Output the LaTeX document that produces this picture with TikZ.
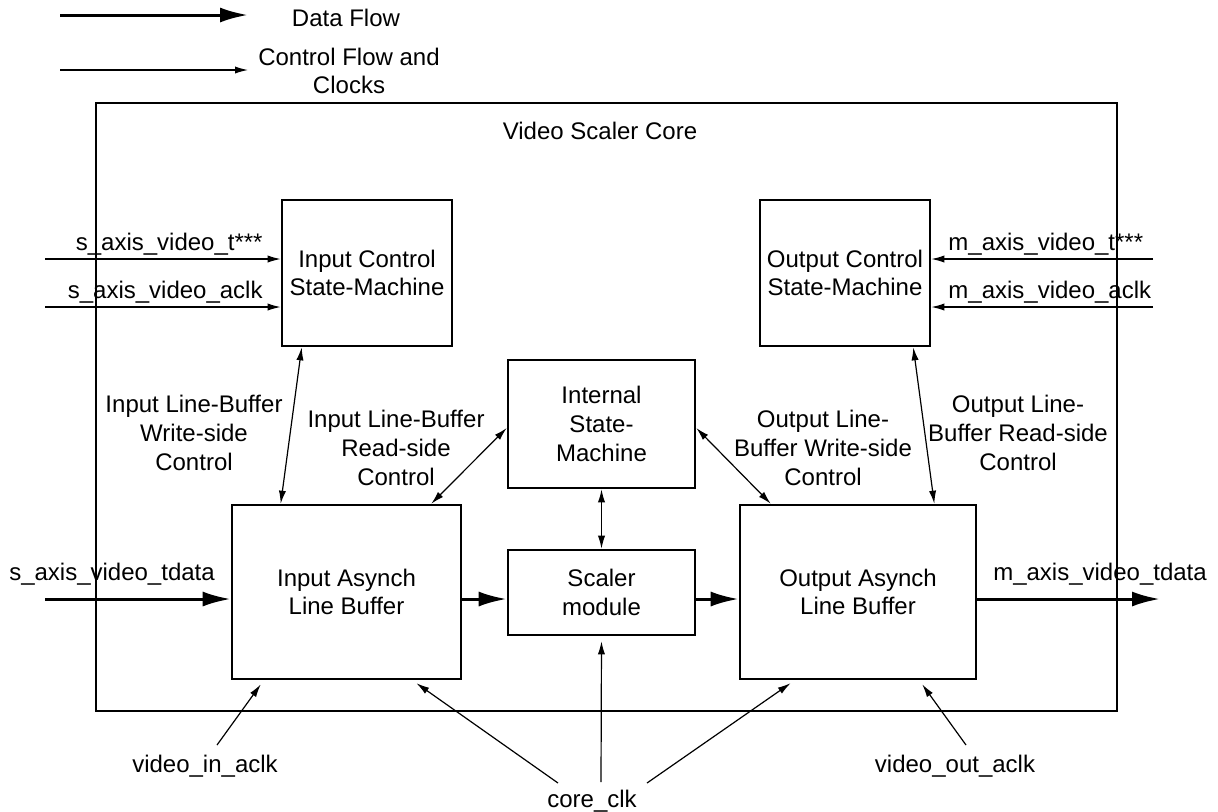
\documentclass[tikz,border=0pt]{standalone}
\usepackage{fontspec}
\setmainfont{Liberation Sans}
\usetikzlibrary{arrows.meta}

\begin{document}
\begin{tikzpicture}[x=0.5pt, y=-0.5pt, >={Latex[length=6.5pt,width=3.6pt]}, font=\fontsize{12}{14.3}\selectfont]

  \tikzstyle{C}=[rectangle,draw,line width=1.3pt,inner sep=0pt,align=center]
  \tikzstyle{T}=[inner sep=0pt,align=center]
  \tikzstyle{D}=[line width=1.5pt,-{Latex[length=14pt,width=7.5pt]}]
  \tikzstyle{K}=[line width=0.6pt,->]
  \tikzstyle{KK}=[line width=0.6pt,<->]
  \tikzstyle{Clk}=[line width=0.6pt,->,shorten >=2.5pt]

  \useasboundingbox (0,0) rectangle (1218,811);

  % legend
  \coordinate (legDa) at (60,15);
  \coordinate (legDb) at (248,15);
  \coordinate (legCa) at (60,70);
  \coordinate (legCb) at (248,70);
  \draw [D] (legDa) to (legDb);
  \draw [K] (legCa) to (legCb);
  \node[T] at (346,18) (legD) {Data Flow};
  \node[T] at (349,71) (legC) {Control Flow and\\Clocks};

  % core
  \node[C, minimum width=510.5pt, minimum height=304pt] at (606.5,407) (core) {};
  \node[T, anchor=base] at (600,139) (coreT) {Video Scaler Core};

  \node[C, minimum width=85pt, minimum height=73pt] at (367,273) (inctrl) {Input Control\\State-Machine};
  \node[C, minimum width=85pt, minimum height=73pt] at (845,273) (outctrl) {Output Control\\State-Machine};
  \node[C, minimum width=93.5pt, minimum height=64pt] at (601.5,424) (internal) {Internal\\State-\\Machine};
  \node[C, minimum width=93.5pt, minimum height=42.5pt] at (601.5,592.5) (scaler) {Scaler\\module};
  \node[C, minimum width=114.5pt, minimum height=87pt] at (346.5,592) (inbuf) {Input Asynch\\Line Buffer};
  \node[C, minimum width=118pt, minimum height=87pt] at (858,592) (outbuf) {Output Asynch\\Line Buffer};

  % side signals
  \coordinate (sTin) at (45,259);
  \coordinate (sCin) at (45,307);
  \coordinate (mTin) at (1153,259);
  \coordinate (mCin) at (1153,307);
  \draw [K] (sTin) to (sTin -| inctrl.west);
  \draw [K] (sCin) to (sCin -| inctrl.west);
  \draw [K] (mTin) to (mTin -| outctrl.east);
  \draw [K] (mCin) to (mCin -| outctrl.east);
  \node[T, anchor=base east] at (263,250) (sTlbl) {s\_axis\_video\_t***};
  \node[T, anchor=base east] at (263,298) (sClbl) {s\_axis\_video\_aclk};
  \node[T, anchor=base west] at (948,250) (mTlbl) {m\_axis\_video\_t***};
  \node[T, anchor=base west] at (948,298) (mClbl) {m\_axis\_video\_aclk};

  % data path
  \coordinate (sData) at (45,599);
  \coordinate (mData) at (1160,599);
  \draw [D] (sData) to (sData -| inbuf.west);
  \draw [D] (sData -| inbuf.east) to (sData -| scaler.west);
  \draw [D] (sData -| scaler.east) to (sData -| outbuf.west);
  \draw [D] (sData -| outbuf.east) to (mData);
  \node[T, anchor=base] at (112,580) (sDlbl) {s\_axis\_video\_tdata};
  \node[T, anchor=base] at (1100,580) (mDlbl) {m\_axis\_video\_tdata};

  % line-buffer control
  \draw [KK] ([xshift=10.5pt]inctrl.south west) to ([xshift=25pt]inbuf.north west);
  \draw [KK] ([xshift=-15.5pt]inbuf.north east) to ([yshift=-2pt]internal.west);
  \draw [KK] ([yshift=-2pt]internal.east) to ([xshift=16pt]outbuf.north west);
  \draw [KK] ([xshift=-9pt]outctrl.south east) to ([xshift=-21.5pt]outbuf.north east);
  \draw [KK] (internal.south) to (scaler.north);
  \node[T] at (194,433) (inWlbl) {Input Line-Buffer\\Write-side\\Control};
  \node[T] at (396,448) (inRlbl) {Input Line-Buffer\\Read-side\\Control};
  \node[T] at (823,448) (outWlbl) {Output Line-\\Buffer Write-side\\Control};
  \node[T] at (1018,433) (outRlbl) {Output Line-\\Buffer Read-side\\Control};

  % clocks
  \node[T, anchor=base] at (205,772) (vinclk) {video\_in\_aclk};
  \node[T, anchor=base] at (955,772) (voutclk) {video\_out\_aclk};
  \node[T, anchor=base] at (592,807) (coreclk) {core\_clk};
  \coordinate (vinT) at (217,745);
  \coordinate (voutT) at (966,745);
  \coordinate (ccL) at (558,783);
  \coordinate (ccM) at (601,782);
  \coordinate (ccR) at (647,783);
  \draw [Clk] (vinT) to ([xshift=16.5pt]inbuf.south west);
  \draw [Clk] (ccL) to ([xshift=-25pt]inbuf.south east);
  \draw [Clk] (ccM) to (scaler.south);
  \draw [Clk] (ccR) to ([xshift=28pt]outbuf.south west);
  \draw [Clk] (voutT) to ([xshift=-29pt]outbuf.south east);

\end{tikzpicture}
\end{document}
